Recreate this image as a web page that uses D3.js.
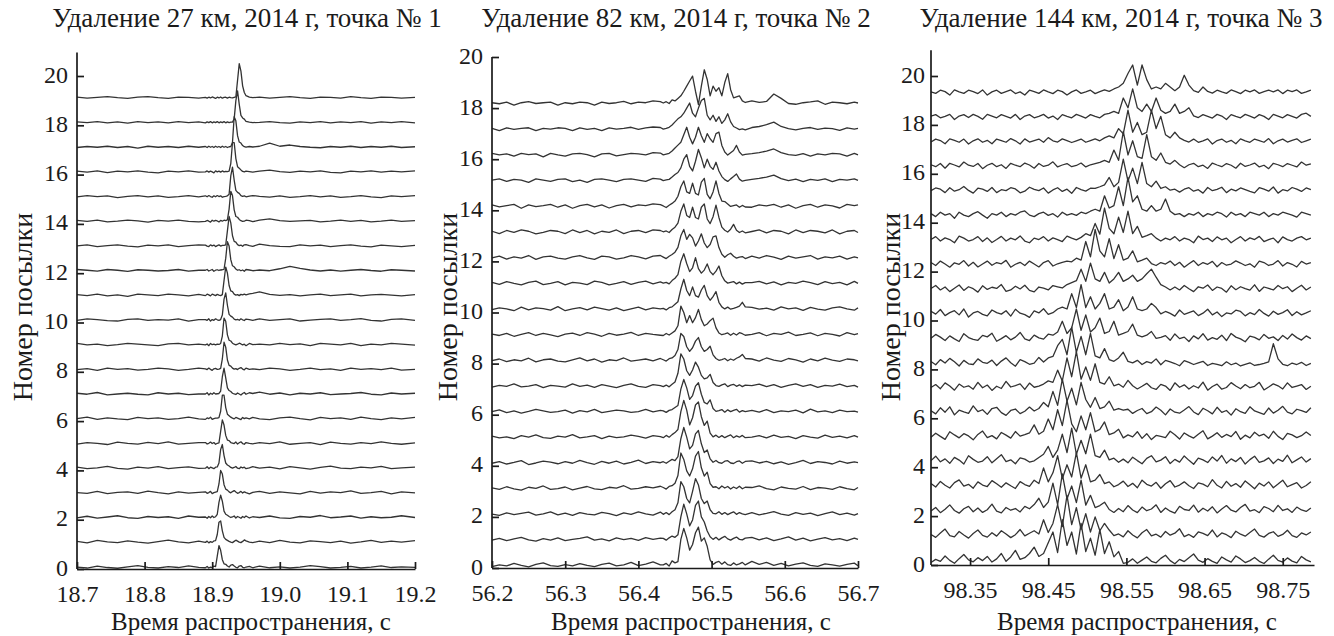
<!DOCTYPE html>
<html>
<head>
<meta charset="utf-8">
<script src="https://cdn.jsdelivr.net/npm/d3@7"></script>
<style>
  body { margin: 0; background: #fff; }
  svg { display: block; background: #fff; }
  .eje path, .eje line, .ejeLinea { stroke: #1b1b1b; stroke-width: 1.7; fill: none; }
  .eje text { font-family: "Liberation Serif", "Times New Roman", serif; font-size: 24px; fill: #1b1b1b; }
  .rotulo { font-family: "Liberation Serif", "Times New Roman", serif; fill: #1b1b1b; }
  .traza { fill: none; stroke: #333; stroke-width: 1.3; stroke-linejoin: round; }
</style>
</head>
<body>
<div id="graf"></div>
<script>
// I. Datos
const titulos = ['Удаление 27 км, 2014 г, точка № 1', 'Удаление 82 км, 2014 г, точка № 2', 'Удаление 144 км, 2014 г, точка № 3']
const etiquetaX = 'Время распространения, с'
const etiquetaY = 'Номер посылки'
const ticksY = [0, 2, 4, 6, 8, 10, 12, 14, 16, 18, 20]

// panel 1: 27 km
const posylki1 = [0, 1, 2, 3, 4, 5, 6, 7, 8, 9, 10, 11, 12, 13, 14, 15, 16, 17, 18, 19]
const ticksX1 = [18.7, 18.8, 18.9, 19.0, 19.1, 19.2]
const tiempos1 = [18.700,18.715,18.730,18.745,18.760,18.775,18.790,18.805,18.820,18.835,18.850,18.865,18.880,
  18.890,18.8925,18.895,18.8975,18.900,18.9025,18.905,18.9075,18.910,18.9125,18.915,18.9175,18.920,18.9225,18.925,18.9275,18.930,18.9325,18.935,18.9375,18.940,18.9425,18.945,18.9475,18.950,18.955,18.960,
  18.970,18.985,19.000,19.015,19.030,19.045,19.060,19.075,19.090,19.105,19.120,19.135,19.150,19.165,19.180,19.200]
// amplitud en centesimas de unidad
const amplitudes1 = [
  [8,4,12,6,3,9,14,7,4,10,6,13,7, 5,10,4,8,6,12,10,52,95,76,38,21,19,12,8,16,18,12,7,5,12,14,7,5,8,11,5, 12,5,9,4,8,14,10,4,7,11,4,8,13,6,9,7],
  [12,6,16,10,7,14,9,5,11,17,10,6,13, 8,13,6,11,8,14,15,40,90,95,55,28,20,16,12,9,7,12,17,13,9,7,12,18,14,9,7, 13,7,16,9,6,14,11,7,13,5,10,16,8,13,9,15],
  [7,14,6,11,16,8,5,13,9,12,5,15,10, 11,6,13,8,15,9,12,22,70,100,75,35,22,18,13,9,11,15,7,13,10,6,13,9,15,7,12, 9,15,7,5,13,10,17,8,11,15,6,12,8,10,16,9],
  [10,7,15,6,11,13,7,16,10,5,13,8,11, 13,7,10,15,6,10,12,14,45,100,85,42,24,20,13,9,14,18,12,7,10,15,8,13,10,5,11, 15,7,13,9,5,15,8,13,10,17,7,10,15,5,13,9],
  [13,7,10,16,8,5,13,9,15,7,11,14,8, 9,15,7,13,10,7,13,14,30,85,105,60,30,22,18,12,9,12,16,9,7,14,10,13,7,10,15, 9,13,6,15,10,5,12,17,9,7,13,10,16,7,10,13],
  [7,13,10,5,15,10,7,14,9,16,7,10,13, 13,7,10,15,9,13,6,10,12,58,105,84,42,23,21,13,11,9,15,7,12,16,9,6,13,10,8, 13,9,16,6,10,13,5,15,10,7,13,9,16,10,6,12],
  [10,16,7,13,9,6,15,10,13,7,10,16,9, 7,13,10,16,7,10,12,12,14,40,105,105,55,28,22,16,12,9,15,12,9,6,15,10,13,9,15, 9,6,13,16,10,5,15,10,13,7,16,10,6,13,9,15],
  [13,9,16,6,10,13,9,6,15,10,13,7,10, 10,15,6,13,9,15,10,11,12,22,80,115,75,35,24,20,13,10,8,14,10,6,12,16,9,15,12, 18,9,14,6,13,10,15,7,10,12,16,9,6,14,10,13],
  [9,13,6,15,10,13,7,10,15,12,6,10,15, 12,9,15,10,6,12,14,10,11,14,52,120,100,48,26,23,15,11,13,9,14,17,11,8,15,10,12, 9,15,12,6,10,15,9,12,6,15,10,13,9,15,7,10],
  [15,9,12,6,10,15,12,9,6,13,15,9,12, 9,13,6,15,10,12,9,12,11,15,45,118,105,50,28,25,16,12,9,12,16,13,9,12,6,15,10, 12,9,15,10,13,6,15,12,9,15,6,12,9,15,12,8],
  [9,15,12,8,6,13,15,9,12,10,15,6,12, 12,9,15,6,12,9,15,11,9,12,30,95,120,70,33,26,22,14,11,13,9,15,11,8,14,12,9, 15,9,12,15,6,10,13,15,9,12,16,9,6,13,15,9],
  [13,9,15,8,12,6,15,12,9,15,12,8,14, 9,15,12,8,15,12,9,14,11,9,13,70,125,100,50,28,25,15,11,13,9,14,12,15,12,16,18, 24,14,10,13,8,12,15,9,12,15,8,12,14,11,8,13],
  [15,12,8,15,12,7,14,12,9,11,15,8,12, 12,15,9,12,15,8,12,14,11,13,14,16,60,128,110,55,30,26,17,12,14,10,13,8,15,13,10, 13,10,18,28,20,13,9,13,8,12,15,11,8,14,12,9],
  [11,15,8,12,15,10,7,14,11,15,8,12,15, 14,10,8,15,11,14,8,12,15,10,13,13,15,72,130,104,52,29,26,16,12,14,9,15,16,12,9, 18,12,9,8,15,11,14,8,12,15,10,7,14,11,8,13],
  [14,10,15,8,11,15,12,7,14,11,15,10,8, 10,14,11,7,15,11,14,12,8,14,11,15,13,16,60,132,115,57,30,27,18,13,10,11,15,13,9, 15,20,13,10,12,14,8,11,15,10,14,8,11,15,10,13],
  [10,15,11,14,7,12,15,10,14,8,11,15,10, 14,10,15,11,8,14,10,15,11,14,8,11,12,14,20,95,130,78,36,28,24,15,12,14,10,13,15, 12,9,14,8,11,15,10,14,8,11,15,10,7,14,11,15],
  [14,10,15,8,14,11,15,10,7,14,11,15,10, 11,15,10,14,11,7,15,11,14,10,15,11,13,12,14,45,130,130,65,32,26,19,13,11,14,12,10, 14,18,12,9,14,11,15,9,7,14,11,15,10,14,11,15],
  [10,14,11,15,10,14,7,15,11,14,10,15,11, 14,10,15,11,14,10,15,11,14,10,15,11,14,10,13,14,30,135,118,58,32,28,18,13,11,14,12, 15,28,15,20,14,11,9,14,11,15,10,14,11,15,10,13],
  [14,11,15,10,14,9,15,11,14,10,15,11,14, 10,14,11,15,10,14,11,15,10,14,11,15,10,14,11,13,13,25,100,140,85,40,30,25,16,13,11, 12,15,11,9,14,11,15,10,14,11,15,9,14,11,15,10],
  [14,10,13,16,12,9,14,16,12,9,14,13,10, 13,10,14,11,15,12,9,14,11,15,10,13,14,10,14,12,11,13,15,82,150,120,60,33,20,14,12, 14,10,13,16,12,9,14,13,10,16,12,9,14,13,10,13]
]

// panel 2: 82 km
const posylki2 = [0, 1, 2, 3, 4, 5, 6, 7, 8, 9, 10, 11, 12, 13, 14, 15, 16, 17, 18]
const ticksX2 = [56.2, 56.3, 56.4, 56.5, 56.6, 56.7]
const tiempos2 = [56.20,56.21,56.22,56.23,56.24,56.25,56.26,56.27,56.28,56.29,56.30,56.31,56.32,56.33,56.34,56.35,56.36,56.37,56.38,56.39,56.40,56.41,56.42,56.43,
  56.434,56.438,56.442,56.446,56.450,56.454,56.458,56.462,56.466,56.470,56.474,56.478,56.482,56.486,56.490,56.494,56.498,56.502,56.506,56.510,56.514,56.518,56.522,56.526,56.530,56.534,56.538,56.542,56.546,
  56.555,56.565,56.575,56.585,56.595,56.605,56.615,56.625,56.635,56.645,56.655,56.665,56.675,56.685,56.695,56.70]
const amplitudes2 = [
  [5,12,8,18,10,4,14,20,9,6,13,8,17,10,5,14,19,8,12,22,9,15,24,12, 12,18,8,28,20,25,112,155,118,70,92,138,160,105,118,85,32,14,22,26,15,24,13,10,20,12,16,22,12, 26,14,22,10,18,8,15,20,10,6,16,12,7,14,19,9],
  [9,16,7,14,20,10,5,15,9,18,7,12,16,22,9,14,6,18,11,16,8,19,12,17, 16,9,18,25,20,30,100,150,112,65,88,145,162,100,80,45,22,12,20,10,18,24,14,9,16,21,12,10,17, 20,10,18,7,14,22,9,17,6,13,19,10,15,7,17,12],
  [11,6,16,9,14,19,7,12,20,8,15,6,17,11,8,18,13,5,16,10,20,12,7,19, 10,17,9,20,28,55,138,118,72,55,100,150,125,72,52,62,28,14,12,20,10,17,9,15,20,10,17,12,9, 17,8,14,21,11,6,17,10,15,5,13,20,9,15,7,13],
  [14,8,18,10,5,16,12,21,8,11,17,6,13,19,10,7,16,13,22,9,12,18,14,20, 15,9,19,22,32,62,150,125,80,60,88,138,156,92,60,75,30,16,18,10,21,13,19,9,17,11,20,10,16, 15,21,11,6,17,12,9,19,7,15,13,8,18,11,6,15],
  [10,16,7,13,20,5,11,18,14,8,16,10,21,12,6,17,10,18,7,13,22,9,16,12, 16,10,18,25,20,36,106,150,112,66,80,125,138,86,52,62,27,14,21,12,10,18,20,11,9,16,19,10,17, 19,11,17,8,15,6,12,21,9,16,13,7,18,10,15,12],
  [16,9,13,6,18,12,21,10,7,16,12,22,9,13,18,6,16,10,13,20,15,8,18,14, 10,19,12,22,30,42,112,156,118,60,88,138,150,92,58,75,28,13,20,11,18,10,16,21,10,17,12,19,10, 12,18,9,20,11,15,6,18,12,8,20,11,16,9,18,12],
  [12,19,8,15,6,13,21,15,9,12,18,6,16,11,21,8,13,18,15,9,12,21,11,17, 15,9,17,20,28,36,100,138,105,60,75,112,125,80,48,42,58,24,13,16,20,10,19,12,17,21,10,16,12, 17,10,20,8,15,12,18,7,22,11,15,8,18,12,14,10],
  [8,15,11,21,9,12,18,6,15,12,8,21,11,16,7,18,12,6,15,21,11,7,18,14, 10,16,9,19,28,62,138,118,72,54,75,106,86,54,40,44,58,26,14,11,17,21,10,16,19,11,17,10,16, 14,20,10,18,7,15,21,11,18,7,15,12,20,10,15,8],
  [12,18,8,15,11,21,7,15,18,10,7,15,22,11,18,6,15,12,22,10,14,18,11,20, 15,10,19,22,32,55,118,106,66,48,62,88,102,66,48,55,68,34,20,13,16,20,11,18,13,21,26,36,20, 18,10,22,14,9,20,15,6,18,11,21,14,9,18,15,11],
  [15,10,18,7,14,21,10,18,12,6,15,19,10,21,15,7,18,11,15,22,10,18,14,11, 10,18,12,20,28,48,125,100,60,88,60,80,112,72,48,55,68,78,40,20,13,16,20,11,19,12,21,17,11, 14,21,9,18,14,23,10,14,20,9,18,14,8,21,13,17],
  [11,18,14,7,21,10,18,15,9,23,7,14,19,10,21,15,9,18,7,14,21,10,18,14, 16,10,19,22,32,42,92,130,86,66,100,66,60,88,106,66,48,62,82,40,22,14,21,13,16,20,25,40,22, 20,13,17,9,22,14,18,8,20,13,9,18,22,14,9,18],
  [18,10,21,14,8,18,23,9,14,21,8,18,15,9,23,18,8,14,21,10,18,23,12,20, 15,18,12,25,34,48,100,130,92,60,75,115,72,54,66,90,60,48,62,82,44,24,15,18,21,12,19,11,17, 17,22,12,20,8,18,14,23,17,9,21,13,18,8,22,14],
  [14,21,9,18,13,23,8,18,21,13,9,18,23,14,8,21,18,9,14,23,18,10,21,23, 17,11,20,27,36,55,100,125,86,106,92,60,80,108,72,54,66,96,100,54,28,16,26,32,20,13,17,19,11, 21,13,23,17,8,21,13,18,23,9,18,14,21,9,18,14],
  [18,9,21,14,23,18,8,14,21,18,9,23,13,21,8,18,14,23,9,18,21,13,23,21, 16,19,13,25,34,50,96,125,80,72,112,72,66,112,125,66,48,75,120,72,34,22,15,26,45,22,13,19,12, 17,23,12,21,18,8,23,13,21,18,12,23,8,18,21,13],
  [21,13,18,23,8,21,14,18,23,12,21,8,18,23,13,21,9,18,23,13,21,18,25,22, 17,11,20,27,36,55,92,115,72,66,106,66,60,110,125,62,45,72,115,66,36,34,25,15,18,21,12,19,13, 12,21,17,23,12,21,8,18,23,12,21,17,9,23,18,21],
  [18,23,13,21,18,9,23,18,13,21,23,12,18,9,21,23,18,12,21,23,18,13,25,22, 16,19,21,30,40,48,66,100,118,72,54,92,138,106,66,100,72,60,88,54,32,20,13,23,32,42,22,14,17, 21,25,30,38,24,16,22,12,21,17,23,12,21,18,23,17],
  [23,17,21,12,23,18,21,9,23,17,12,21,23,18,9,21,23,13,18,23,21,17,26,24, 17,20,23,32,44,55,66,96,125,86,60,86,125,92,66,100,80,66,100,106,54,28,16,25,34,54,28,16,19, 22,26,32,40,26,18,15,22,12,21,17,23,21,12,23,17],
  [21,12,23,17,21,23,12,21,18,23,21,12,23,17,21,12,23,18,21,25,17,23,26,24, 18,21,25,34,46,58,66,80,100,120,80,66,100,130,138,72,54,72,48,66,40,54,78,46,28,22,16,19,15, 24,28,35,45,28,20,15,21,24,17,22,20,13,23,18,21],
  [21,17,23,12,21,25,18,21,23,12,21,17,23,21,12,23,18,21,26,17,23,21,28,25, 20,25,18,32,28,38,48,66,86,106,125,66,14,86,150,112,48,86,66,80,48,100,135,72,40,44,48,28,22, 28,22,26,55,38,18,15,21,24,28,15,23,21,17,23,20]
]

// panel 3: 144 km
const posylki3 = [0, 1, 2, 3, 4, 5, 6, 7, 8, 9, 10, 11, 12, 13, 14, 15, 16, 17, 18, 19]
const ticksX3 = [98.35, 98.45, 98.55, 98.65, 98.75]
const tiempos3 = [98.300,98.306,98.312,98.318,98.324,98.330,98.336,98.342,98.348,98.354,98.360,98.366,98.372,98.378,98.384,98.390,98.396,98.402,98.408,98.414,
  98.420,98.426,98.432,98.438,98.444,98.450,98.456,98.462,98.468,98.474,98.480,98.486,98.492,98.498,98.504,98.510,98.516,98.522,98.528,98.534,
  98.540,98.546,98.552,98.558,98.564,98.570,98.576,98.582,98.588,98.594,98.600,98.606,98.612,98.618,98.624,98.630,98.636,98.642,98.648,98.654,
  98.660,98.666,98.672,98.678,98.684,98.690,98.696,98.702,98.708,98.714,98.720,98.726,98.732,98.738,98.744,98.750,98.756,98.762,98.768,98.774,98.780,98.786]
const amplitudes3 = [
  [25,38,30,52,34,22,41,58,36,28,45,33,50,27,40,62, 30,48,75,38,45,62,88,50,62,106,150,66,200,95,150,60,185,70,125,55,160,62,110,48,70,22, 26,40,22,35,48,30,24,42,55,33,20,38,29,45,60,35,26,41,30,22,48,36,27,52,40,25,33,46,30,21,39,55,34,27,44,31,24,50,36,28],
  [40,28,46,62,35,30,52,38,25,44,58,36,29,47,33,55,42,27,39,60,34,45, 55,42,100,48,85,162,72,200,80,150,60,125,50,112,55,85,58,35, 42,30,55,38,26,47,60,34,41,29,52,37,45,63,31,40,28,50,44,35,58,30,46,39,27,53,41,33,48,62,36,29,44,51,32,40,57,35,28,46,38,50],
  [36,50,29,43,61,38,27,45,55,33,48,30,41,64,35,28,50,39,46,32,55, 45,62,88,50,72,150,62,188,85,138,70,162,60,100,50,58,72,42,30, 46,33,58,40,29,52,37,44,61,30,48,35,27,55,42,38,60,31,47,36,53,28,44,58,39,32,50,63,35,41,29,54,46,33,59,38,45,30,52,40,34,48],
  [48,34,57,41,30,52,63,38,45,29,55,42,36,60,47,33,51,39,28,56,44,37, 62,48,112,55,92,162,68,125,75,175,70,125,55,62,85,48,55,35, 44,58,36,49,31,62,45,38,53,29,47,60,34,42,55,39,28,51,46,35,64,41,30,57,37,48,33,59,43,27,50,38,55,31,46,62,35,44,52,30,40,56],
  [42,60,37,49,31,55,44,28,62,47,35,40,58,33,50,66,38,45,29,53,48,36,41, 55,68,100,55,85,150,75,175,68,125,70,150,62,55,85,45,52,35, 48,33,56,42,29,51,62,37,44,58,30,47,36,61,43,27,52,45,34,57,40,63,31,49,38,55,28,46,60,35,41,53,30,48,39,64,33,45,57,36,50],
  [38,54,41,29,60,47,35,52,43,27,49,63,36,44,31,57,46,34,61,42, 48,55,88,50,62,112,68,150,85,188,92,60,125,68,138,60,70,100,48,55,70,35, 47,39,60,33,52,28,45,41,36,62,48,30,55,43,34,50,64,31,42,56,37,49,40,61,29,46,35,58,43,50,33,62,41,28,53,47,36,44,59,45],
  [46,33,58,40,62,29,48,41,35,66,42,50,31,55,60,38,27,47,53,34,44,61,45, 55,80,62,125,68,175,85,138,70,162,92,60,100,55,62,85,48,55,48,52,35, 47,55,34,42,61,48,29,53,40,36,49,63,41,30,56,46,33,60,39,47,28,54,42,35,62,45,38,31,57,36,48,64,40,33,52,46,39,58],
  [41,53,36,60,47,30,55,42,48,34,62,40,51,29,46,37,66,43,49,56,33,59,42,47, 55,68,62,112,68,162,85,188,75,125,70,138,62,55,85,48,55,42,70,48,35, 46,58,40,33,54,47,29,60,42,52,35,48,39,63,30,45,55,34,41,61,47,36,53,40,46,62,31,43,56,48,35,60,41,47,53,33,46],
  [47,34,55,41,60,46,29,52,38,35,58,44,40,53,31,49,62,42,28,55,47,36,41,64,45, 62,68,112,138,75,188,85,150,75,162,70,62,100,55,48,62,85,48,42,52,35, 47,41,58,34,52,46,39,30,51,44,35,42,48,31,40,36,30,46,34,41,29,36,42,31,35,40,46,120,58,36,30,41,35,44,31,40],
  [42,58,47,33,52,40,29,61,45,38,34,54,48,63,30,41,53,36,47,66,40,33,55,44,39,59, 55,68,112,62,85,162,75,138,68,85,125,62,70,112,55,62,70,100,55,48,55,70,42, 46,53,34,60,41,47,29,52,40,61,35,45,38,55,33,62,47,40,28,51,46,36,58,42,48,33,54,39,60,45,35,52,41],
  [53,41,60,35,47,55,38,62,29,46,52,40,34,58,47,41,55,33,61,45,39,28,54,46,63,40,47, 62,70,62,125,68,162,68,112,62,85,125,62,70,100,55,70,112,62,55,62,85,68,42, 52,44,33,58,40,47,54,35,45,61,38,50,31,46,42,57,52,34,47,39,60,44,33,53,40,47,59,35,51,38,46,55],
  [46,58,40,52,33,47,60,38,53,45,31,57,42,51,46,62,34,40,55,44,59,38,32,52,47,40,58,53, 48,62,70,78,125,75,150,85,75,112,68,85,112,75,85,100,75,85,106,125,92,62,52,40, 52,40,58,45,33,53,47,60,38,52,46,31,57,41,53,45,39,61,34,52,46,40,58,45,53,33,47,59,40,52],
  [52,40,58,46,33,51,45,60,38,53,34,46,58,41,52,47,61,33,45,53,40,58,46,34,52,60,38,47,53,58, 55,70,62,138,75,188,100,75,150,68,125,62,70,100,55,62,70,48,40, 52,46,58,40,53,33,47,60,40,52,45,57,35,52,41,46,59,50,40,47,33,58,52,40,46,60,38,52,45,34,57,46,52],
  [46,58,40,53,46,33,60,52,40,46,58,38,53,34,46,59,40,52,45,61,40,33,52,46,58,40,53,46,38,60,52,45, 55,70,62,112,68,175,92,70,138,75,162,70,100,55,62,70,52,40, 52,45,58,40,52,46,33,60,46,52,38,57,45,52,33,46,58,40,53,46,59,38,46,52,33,57,46,40,52,58,45,52],
  [52,40,58,46,52,33,58,46,40,52,60,46,33,52,46,58,40,52,46,58,63,46,40,52,58,45,52,38,58,46,52,45,58,52, 62,70,62,125,75,85,162,85,200,100,125,70,62,85,62,70,112,62,48,52,40, 52,46,58,40,52,46,58,52,38,58,46,52,40,58,52,46,58,40,52,46,58,52,46,38,58,52,46],
  [46,57,52,38,58,44,50,63,47,36,56,52,43,59,38,50,46,58,53,37,44,60,51,46,57,36,49,58,43,52,35,59,50,44,56, 55,62,70,100,62,80,175,85,138,75,162,75,62,85,55,62,48,52,40, 52,58,44,50,36,59,46,51,60,38,52,45,57,50,43,37,58,52,44,61,36,50,45,59,52,43,57,50],
  [52,44,57,38,58,51,43,63,50,45,57,36,50,58,44,52,37,58,50,44,59,51,38,57,45,50,64,43,51,57,44,49,59,43,52,57, 62,70,62,112,70,188,92,150,85,78,175,85,70,100,62,55,70,52,40, 52,58,44,50,37,59,51,44,57,50,38,58,45,51,59,43,50,36,58,52,44,57,50,43,63,50,56],
  [45,57,51,38,58,52,44,57,37,50,58,44,52,38,57,51,44,59,50,37,58,45,51,57,44,63,50,45,58,51,43,50,57,44,51,58,50, 62,70,62,100,78,175,85,125,75,85,175,100,150,75,62,85,62,52,45, 57,44,50,58,37,51,57,44,52,38,58,50,44,57,51,44,59,38,50,57,45,52,58,43,50,57],
  [51,57,44,50,58,37,51,57,45,58,50,38,58,51,44,57,50,43,58,37,51,57,44,50,58,43,51,37,57,50,44,58,51,43,57,50,44,58, 62,70,62,125,85,162,85,70,100,70,125,75,62,70,100,62,70,85,52,45, 57,50,43,58,51,37,57,50,44,58,51,43,57,50,37,58,51,44,57,50,43,58,63,50],
  [50,44,57,51,37,58,50,44,57,51,43,58,37,50,57,44,51,58,43,50,37,57,51,44,58,50,43,57,51,37,50,58,44,50,57,43,51,58,52, 62,70,85,125,160,78,160,100,62,70,62,85,70,55,70,118,78,55,48,70,52,45, 57,50,44,58,51,43,57,50,58,44,51,57,50,58,43,57,51,58,44,50,57]
]

// II. Configuración de paneles (posiciones y estilos)
const paneles = [
  { titulo: titulos[0], posylki: posylki1, tiempos: tiempos1, amps: amplitudes1, dominioX: [18.7, 19.2], ticksX: ticksX1, formato: '.1f',
    rangoX: [77, 415], rangoY: [569, 76], topeEje: 20.95, desplaz: 0, padY: 9, tituloX: 247, etiqYX: 22, etiqXX: 251 },
  { titulo: titulos[1], posylki: posylki2, tiempos: tiempos2, amps: amplitudes2, dominioX: [56.2, 56.7], ticksX: ticksX2, formato: '.1f',
    rangoX: [492, 858], rangoY: [568, 57], topeEje: 20, desplaz: 0, padY: 9, tituloX: 676, etiqYX: 447, etiqXX: 691 },
  { titulo: titulos[2], posylki: posylki3, tiempos: tiempos3, amps: amplitudes3, dominioX: [98.3, 98.79], ticksX: ticksX3, formato: '.2f',
    rangoX: [931, 1314], rangoY: [565, 76], topeEje: 21.05, desplaz: -0.15, padY: 6, tituloX: 1121, etiqYX: 890, etiqXX: 1137 }
]

const ancho = 1334
const alto = 636
const fuente = '"Liberation Serif", "Times New Roman", serif'

const svg = d3.select('#graf').append('svg')
  .attr('width', ancho)
  .attr('height', alto)

// III. Dibujo
paneles.forEach(p => {
  const x = d3.scaleLinear().domain(p.dominioX).range(p.rangoX)
  const y = d3.scaleLinear().domain([0, 20]).range(p.rangoY)
  const g = svg.append('g')

  const linea = d3.line()
    .x(d => x(d.t))
    .y(d => y(d.v))

  // trazas (una por posylka)
  p.posylki.forEach((k, i) => {
    const fila = p.amps[i]
    const datos = p.tiempos
      .map((t, j) => ({ t: t, v: k + fila[j] / 100 + p.desplaz }))
      .filter(d => !isNaN(d.v))
    g.append('path')
      .attr('class', 'traza')
      .attr('d', linea(datos))
  })

  // eje Y
  const ejeY = d3.axisLeft(y)
    .tickValues(ticksY)
    .tickSizeInner(-7)
    .tickSizeOuter(0)
    .tickPadding(p.padY)
  g.append('g')
    .attr('class', 'eje')
    .attr('transform', `translate(${p.rangoX[0]},0)`)
    .call(ejeY)
    .call(s => s.select('.domain').remove())
    .call(s => s.selectAll('text').style('font-family', fuente).attr('dy', '0.25em'))

  g.append('line')
    .attr('class', 'ejeLinea')
    .attr('x1', x(p.dominioX[0])).attr('x2', x(p.dominioX[0]))
    .attr('y1', y(0)).attr('y2', y(p.topeEje))

  // eje X
  const ejeX = d3.axisBottom(x)
    .tickValues(p.ticksX)
    .tickFormat(d3.format(p.formato))
    .tickSizeInner(-7)
    .tickSizeOuter(0)
    .tickPadding(16)
  g.append('g')
    .attr('class', 'eje')
    .attr('transform', `translate(0,${y(0)})`)
    .call(ejeX)
    .call(s => s.selectAll('text').style('font-family', fuente))

  // textos
  g.append('text')
    .attr('class', 'rotulo')
    .attr('x', p.tituloX).attr('y', 27)
    .attr('text-anchor', 'middle')
    .style('font-family', fuente)
    .style('font-size', '27px')
    .text(p.titulo)

  g.append('text')
    .attr('class', 'rotulo')
    .attr('x', p.etiqXX).attr('y', 630)
    .attr('text-anchor', 'middle')
    .style('font-family', fuente)
    .style('font-size', '25px')
    .text(etiquetaX)

  g.append('text')
    .attr('class', 'rotulo')
    .attr('transform', `translate(${p.etiqYX},307) rotate(-90)`)
    .attr('text-anchor', 'middle')
    .attr('dy', '0.35em')
    .style('font-family', fuente)
    .style('font-size', '28px')
    .text(etiquetaY)
})
</script>
</body>
</html>
